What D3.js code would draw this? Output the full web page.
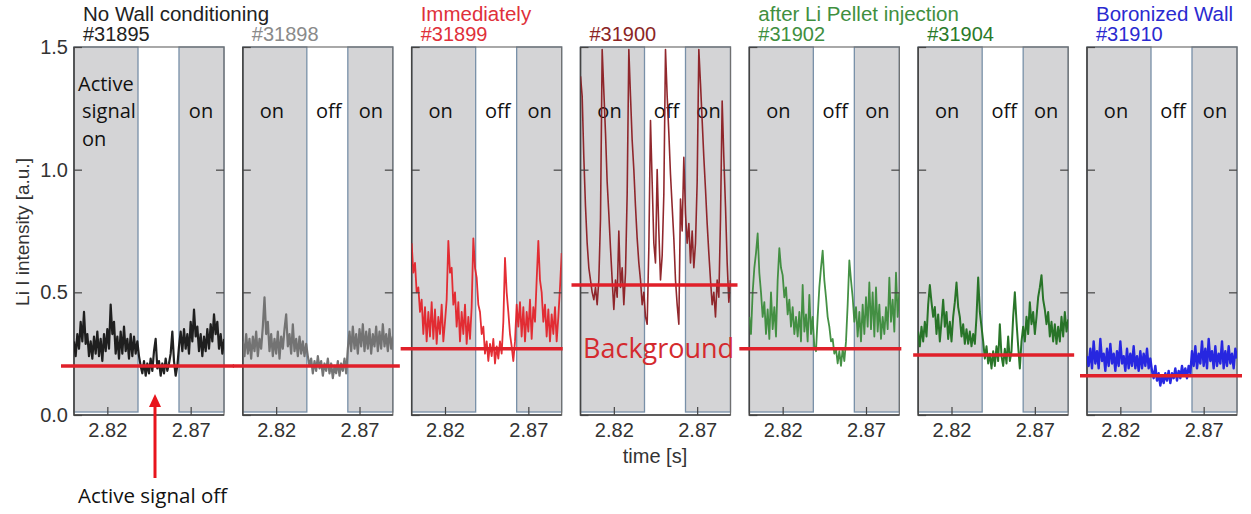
<!DOCTYPE html>
<html>
<head>
<meta charset="utf-8">
<script src="https://cdn.jsdelivr.net/npm/d3@7"></script>
<style>
  body { margin: 0; background: #fff; }
  svg { display: block; }
</style>
</head>
<body>
<svg id="chart" width="1251" height="514"></svg>
<script>
const t0 = 2.80, dt = 0.001;

const li31895 = [0.30,0.24,0.33,0.27,0.38,0.30,0.42,0.29,
  0.33,0.24,0.30,0.23,0.32,0.25,0.34,0.24,0.31,0.22,0.33,0.26,0.35,0.27,
  0.45,0.33,0.38,0.25,
  0.32,0.23,0.34,0.25,0.36,0.26,0.31,0.23,0.33,0.24,0.32,0.25,0.30,
  0.24,0.20,
  0.17,0.22,0.16,0.21,0.17,0.23,0.18,0.26,0.31,0.19,0.22,0.16,0.21,0.17,0.23,0.18,0.21,0.25,0.34,0.22,0.16,0.20,
  0.28,0.34,0.26,0.35,0.27,0.33,0.25,0.38,0.30,0.43,0.32,0.36,0.26,0.33,0.24,0.32,0.26,0.35,0.27,0.37,
  0.30,0.41,0.33,0.38,0.27,0.33,0.25,0.31];

const li31898 = [0.30,0.24,0.33,0.25,0.31,0.23,0.32,0.26,0.34,0.24,0.31,0.27,0.36,
  0.48,0.33,0.38,
  0.26,0.33,0.24,0.31,0.25,0.34,0.23,0.32,0.27,0.35,0.41,0.28,0.33,0.25,0.37,0.26,0.31,0.24,0.32,0.25,0.30,0.24,0.29,
  0.24,0.20,0.23,0.17,0.22,0.18,0.24,0.19,0.22,0.16,0.21,0.18,0.23,0.17,0.21,0.15,0.20,0.17,0.22,0.16,0.21,0.18,0.23,0.17,
  0.27,0.34,0.26,0.36,0.27,0.33,0.25,0.35,0.28,0.37,0.26,0.34,0.27,0.35,0.25,0.33,0.28,0.36,0.26,0.34,0.27,0.37,0.28,0.33,0.26,0.35,0.27,0.32];

const li31899 = [0.70,0.58,0.62,0.50,0.52,0.42,0.47,0.33,0.44,0.30,
  0.42,0.32,0.46,0.31,0.43,0.29,0.40,0.33,0.45,0.30,
  0.38,0.47,0.71,0.58,0.60,0.45,0.50,0.36,0.46,0.30,
  0.42,0.33,0.45,0.29,0.40,0.31,0.44,0.72,0.60,0.56,
  0.45,0.42,0.33,0.36,0.25,0.30,0.22,0.29,0.24,0.31,
  0.21,0.28,0.23,0.30,0.25,0.38,0.64,0.50,0.42,0.33,
  0.28,0.22,0.30,0.45,0.36,0.46,0.32,0.44,0.30,0.42,
  0.34,0.47,0.31,0.44,0.38,0.55,0.71,0.55,0.50,0.38,
  0.45,0.32,0.43,0.30,0.41,0.33,0.44,0.30,0.40,0.52,0.66];

const li31900 = [1.38,1.30,1.05,0.85,0.70,0.60,0.55,0.50,0.47,0.52,
  0.45,0.55,0.80,1.49,1.32,1.15,0.95,0.82,0.68,0.55,
  0.43,0.55,0.48,0.75,0.52,0.60,0.45,0.58,0.90,1.49,
  1.30,1.12,1.00,0.85,0.72,0.62,0.55,0.45,0.50,0.40,
  0.37,0.68,1.20,0.95,0.70,0.62,1.00,0.75,0.55,0.65,
  0.90,1.49,1.30,1.15,0.98,0.85,0.72,0.55,0.45,0.37,
  0.88,0.75,1.05,0.82,0.70,0.78,0.62,0.75,0.60,0.70,
  0.95,1.49,1.35,1.20,1.05,0.92,0.78,0.66,0.55,0.45,
  0.50,0.40,0.55,0.48,0.80,1.28,1.05,0.85,0.62,0.46,0.55];

const li31902 = [0.40,0.33,0.50,0.60,0.66,0.74,0.58,0.50,0.40,0.46,
  0.33,0.43,0.31,0.50,0.35,0.44,0.32,0.55,0.68,0.60,
  0.57,0.48,0.52,0.41,0.47,0.36,0.44,0.33,0.40,0.32,
  0.42,0.30,0.53,0.34,0.41,0.30,0.49,0.33,0.40,0.28,
  0.26,0.40,0.52,0.60,0.67,0.55,0.48,0.40,0.36,0.30,
  0.31,0.25,0.27,0.21,0.26,0.20,0.27,0.22,0.30,0.45,
  0.63,0.55,0.48,0.38,0.44,0.32,0.42,0.30,0.45,0.33,
  0.48,0.36,0.54,0.35,0.50,0.32,0.52,0.34,0.45,0.31,
  0.40,0.33,0.44,0.35,0.56,0.38,0.47,0.34,0.58,0.40,0.50];

const li31904 = [0.34,0.28,0.36,0.30,0.38,0.32,0.45,0.53,0.46,0.40,
  0.44,0.33,0.41,0.30,0.38,0.47,0.36,0.42,0.31,0.38,
  0.30,0.40,0.46,0.54,0.44,0.40,0.32,0.37,0.29,0.35,
  0.29,0.34,0.28,0.33,0.29,0.40,0.56,0.42,0.36,0.30,
  0.23,0.28,0.21,0.25,0.19,0.26,0.20,0.28,0.22,0.37,
  0.24,0.20,0.27,0.21,0.32,0.22,0.26,0.40,0.50,0.38,
  0.28,0.19,0.30,0.36,0.30,0.40,0.33,0.46,0.37,0.42,
  0.33,0.40,0.48,0.52,0.57,0.47,0.43,0.37,0.42,0.32,
  0.38,0.30,0.37,0.29,0.36,0.30,0.40,0.32,0.42,0.34,0.39];

const li31910 = [0.24,0.20,0.27,0.19,0.30,0.21,0.26,0.19,0.31,0.22,
  0.25,0.18,0.27,0.20,0.29,0.21,0.25,0.18,0.26,0.20,
  0.30,0.21,0.24,0.18,0.27,0.19,0.25,0.20,0.28,0.19,
  0.24,0.18,0.26,0.19,0.25,0.20,0.27,0.19,0.23,0.18,
  0.15,0.20,0.14,0.17,0.12,0.16,0.13,0.17,0.14,0.18,
  0.13,0.17,0.15,0.19,0.14,0.18,0.15,0.20,0.16,0.19,
  0.15,0.20,0.17,0.26,0.20,0.28,0.19,0.25,0.21,0.30,
  0.20,0.27,0.19,0.31,0.22,0.26,0.19,0.28,0.20,0.25,
  0.21,0.30,0.19,0.26,0.20,0.28,0.21,0.25,0.19,0.27,0.23];

const shots = ['#31895', '#31898', '#31899', '#31900', '#31902', '#31904', '#31910'];
const shotSeries = [li31895, li31898, li31899, li31900, li31902, li31904, li31910];
const backgroundLevels = [0.20, 0.20, 0.27, 0.53, 0.27, 0.245, 0.16];
const groupLabels = ['No Wall conditioning', null, 'Immediately', null, 'after Li Pellet injection', null, 'Boronized Wall'];
const onWindows = [[2.80, 2.8384], [2.863, 2.89]];
const yTicks = [0, 0.5, 1.0, 1.5];
const xTicks = [2.82, 2.87];

// styling
const lineColors = ['#151515', '#6e6e6e', '#e3232a', '#8b1c22', '#3b8b3b', '#1f6f1f', '#1d1de0'];
const lineWidths = [2.2, 2.2, 1.8, 1.6, 1.8, 2.0, 2.4];
const shotColors = ['#222', '#8a8a8a', '#e0303a', '#8b2525', '#3f8f3f', '#2a7a2a', '#2a2ad0'];
const bgSpans = [[-13, 160], [-10, 157], [-11, 151], [-9, 157], [-10, 152], [-5, 156], [-7, 155]];

const svg = d3.select('#chart');
const panelW = 150;
const panelX = d3.scaleLinear().domain([0, 6]).range([74, 1087]);
const x = d3.scaleLinear().domain([2.80, 2.89]).range([0, panelW]);
const y = d3.scaleLinear().domain([0, 1.5]).range([415, 47]);
const sansArial = 'Liberation Sans, Arial, sans-serif';
const sansCal = 'Open Sans, Noto Sans, sans-serif';

svg.append('rect').attr('width', 1251).attr('height', 514).attr('fill', '#fff');

svg.append('defs').append('clipPath').attr('id', 'plotclip')
  .append('rect').attr('x', 0).attr('y', y(1.5)).attr('width', panelW).attr('height', y(0) - y(1.5));

const line = d3.line()
  .x((d, i) => x(t0 + i * dt))
  .y(d => y(d));

shots.forEach((shot, k) => {
  let g = svg.append('g').attr('transform', `translate(${panelX(k)},0)`);

  // active signal "on" windows
  g.selectAll('rect.on')
    .data(onWindows)
    .enter().append('rect')
      .attr('class', 'on')
      .attr('x', d => x(d[0]))
      .attr('y', y(1.5))
      .attr('width', d => x(d[1]) - x(d[0]))
      .attr('height', y(0) - 3 - y(1.5))
      .attr('fill', '#d4d4d6')
      .attr('stroke', '#7890a8')
      .attr('stroke-width', 1.3);

  // frame
  g.append('rect')
    .attr('x', 0).attr('y', y(1.5))
    .attr('width', panelW).attr('height', y(0) - y(1.5))
    .attr('fill', 'none').attr('stroke', '#707070').attr('stroke-width', 1.2);
  g.append('path')
    .attr('d', `M0 ${y(1.5)} V${y(0)} H${panelW}`)
    .attr('fill', 'none').attr('stroke', '#444').attr('stroke-width', 1.5);

  // on / off labels
  let labels = k === 0
    ? [{t: 'on', x: 127}]
    : [{t: 'on', x: 29}, {t: 'off', x: 86}, {t: 'on', x: 128}];
  g.selectAll('text.state')
    .data(labels)
    .enter().append('text')
      .attr('class', 'state')
      .attr('x', d => d.x).attr('y', 118)
      .attr('text-anchor', 'middle')
      .style('font-family', sansCal).style('font-size', '20px')
      .attr('fill', '#111')
      .text(d => d.t);

  if(k === 0){
    g.selectAll('text.active')
      .data([['Active', 4, 91], ['signal', 8, 118], ['on', 8, 146]])
      .enter().append('text')
        .attr('x', d => d[1]).attr('y', d => d[2])
        .style('font-family', sansCal).style('font-size', '20px')
        .attr('fill', '#111')
        .text(d => d[0]);
  }

  // signal trace
  g.append('path')
    .datum(shotSeries[k])
    .attr('clip-path', 'url(#plotclip)')
    .attr('d', line)
    .attr('fill', 'none')
    .attr('stroke', lineColors[k])
    .attr('stroke-width', lineWidths[k])
    .attr('stroke-linejoin', 'round')
    .attr('opacity', 0.95);

  // ticks (inward)
  let left = d3.axisLeft(y).tickValues(yTicks).tickSizeInner(-8).tickSizeOuter(0).tickPadding(6)
    .tickFormat(k === 0 ? d3.format('.1f') : () => '');
  let right = d3.axisRight(y).tickValues([0.5, 1.0]).tickSizeInner(-8).tickSizeOuter(0).tickFormat(() => '');
  let bottom = d3.axisBottom(x).tickValues(xTicks).tickSizeInner(-8).tickSizeOuter(0).tickPadding(8)
    .tickFormat(d3.format('.2f'));

  [[left, `translate(0,0)`], [right, `translate(${panelW},0)`], [bottom, `translate(0,${y(0)})`]]
    .forEach(([axis, tr]) => {
      let a = g.append('g').attr('transform', tr).call(axis);
      a.select('.domain').remove();
      a.selectAll('line').attr('stroke', '#444').attr('stroke-width', 1.2);
      a.selectAll('text')
        .style('font-family', sansArial).style('font-size', '20px')
        .attr('fill', '#333');
    });

  // shot number and group headers
  g.append('text')
    .attr('x', 9).attr('y', 41)
    .style('font-family', sansArial).style('font-size', '20px')
    .attr('fill', shotColors[k])
    .text(shot);

  if(groupLabels[k]){
    g.append('text')
      .attr('x', 9).attr('y', 21)
      .style('font-family', sansArial).style('font-size', '20.5px')
      .attr('fill', shotColors[k])
      .text(groupLabels[k]);
  }
});

// background levels (drawn over the traces)
svg.selectAll('line.bg')
  .data(backgroundLevels)
  .enter().append('line')
    .attr('class', 'bg')
    .attr('x1', (d, k) => panelX(k) + bgSpans[k][0])
    .attr('x2', (d, k) => panelX(k) + bgSpans[k][1])
    .attr('y1', d => y(d)).attr('y2', d => y(d))
    .attr('stroke', '#e0202a')
    .attr('stroke-width', 3.5);

svg.append('text')
  .attr('x', 583).attr('y', 358)
  .style('font-family', sansCal).style('font-size', '27px')
  .attr('fill', '#d42a2e')
  .text('Background');

// axis titles
svg.append('text')
  .attr('transform', 'translate(29,232) rotate(-90)')
  .attr('text-anchor', 'middle')
  .style('font-family', sansArial).style('font-size', '19px')
  .attr('fill', '#333')
  .text('Li I intensity [a.u.]');

svg.append('text')
  .attr('x', 655).attr('y', 463)
  .attr('text-anchor', 'middle')
  .style('font-family', sansArial).style('font-size', '20px')
  .attr('fill', '#333')
  .text('time [s]');

// arrow annotation
svg.append('line')
  .attr('x1', 155).attr('x2', 155).attr('y1', 478).attr('y2', 404)
  .attr('stroke', '#e8141c').attr('stroke-width', 3);
svg.append('path')
  .attr('d', 'M155 394 L149 407 L161 407 Z')
  .attr('fill', '#e8141c');

svg.append('text')
  .attr('x', 78).attr('y', 503)
  .style('font-family', sansCal).style('font-size', '20.5px')
  .attr('fill', '#111')
  .text('Active signal off');
</script>
</body>
</html>
